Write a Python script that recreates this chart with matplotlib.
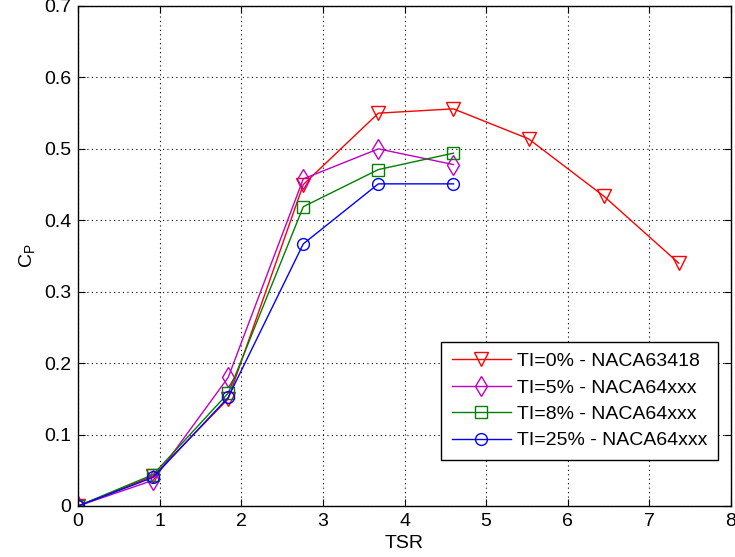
import numpy as np
import matplotlib
matplotlib.use("Agg")
import matplotlib.pyplot as plt

plt.rcParams['font.family'] = ['Liberation Sans', 'DejaVu Sans']
plt.rcParams['mathtext.fontset'] = 'custom'
plt.rcParams['mathtext.rm'] = 'Liberation Sans'

# TSR values
tsr_red = [0, 0.92, 1.84, 2.76, 3.68, 4.6, 5.52, 6.44, 7.36]
tsr_short = [0, 0.92, 1.84, 2.76, 3.68, 4.6]

# Cp values
cp_ti0 = [0, 0.042, 0.15, 0.45, 0.55, 0.556, 0.514, 0.434, 0.34]
cp_ti5 = [0, 0.036, 0.18, 0.458, 0.5, 0.478]
cp_ti8 = [0, 0.044, 0.158, 0.419, 0.471, 0.494]
cp_ti25 = [0, 0.04, 0.152, 0.367, 0.451, 0.451]

labels = ['TI=0% - NACA63418', 'TI=5% - NACA64xxx',
          'TI=8% - NACA64xxx', 'TI=25% - NACA64xxx']

fs = 14

fig = plt.figure(figsize=(7.35, 5.57), dpi=100)
ax = fig.add_axes([78/735, (557-506)/557, 653/735, 500/557])

ax.plot(tsr_red, cp_ti0, color='red', lw=1, marker='v', ms=10,
        mfc='none', mec='red', label=labels[0])
ax.plot(tsr_short, cp_ti5, color='#c000c0', lw=1, marker='d', ms=10,
        mfc='none', mec='#c000c0', label=labels[1])
ax.plot(tsr_short, cp_ti8, color='#008000', lw=1, marker='s', ms=8.5,
        mfc='none', mec='#008000', label=labels[2])
ax.plot(tsr_short, cp_ti25, color='blue', lw=1, marker='o', ms=8.5,
        mfc='none', mec='blue', label=labels[3])

ax.set_xlim(0, 8)
ax.set_ylim(0, 0.7)
ax.set_xticks(np.arange(0, 9, 1))
ax.set_yticks(np.arange(0, 0.71, 0.1))
ax.set_yticklabels(['0', '0.1', '0.2', '0.3', '0.4', '0.5', '0.6', '0.7'])
ax.tick_params(direction='in', top=True, right=True, labelsize=fs,
               length=5, pad=5)
ax.grid(True, color='black', linestyle=(0, (1, 3)), lw=0.8)
for s in ax.spines.values():
    s.set_linewidth(1)

ax.set_xlabel('TSR', fontsize=fs, labelpad=4)
ax.set_ylabel(r'C$_\mathrm{P}$', fontsize=fs, labelpad=4)

leg = ax.legend(loc='lower right', bbox_to_anchor=(0.98, 0.092), fontsize=fs,
                fancybox=False, edgecolor='black', framealpha=1,
                handlelength=3.05, handletextpad=0.3, borderpad=0.55,
                labelspacing=0.45, borderaxespad=0)
leg.get_frame().set_linewidth(1)

fig.savefig('out.png', dpi=100)
